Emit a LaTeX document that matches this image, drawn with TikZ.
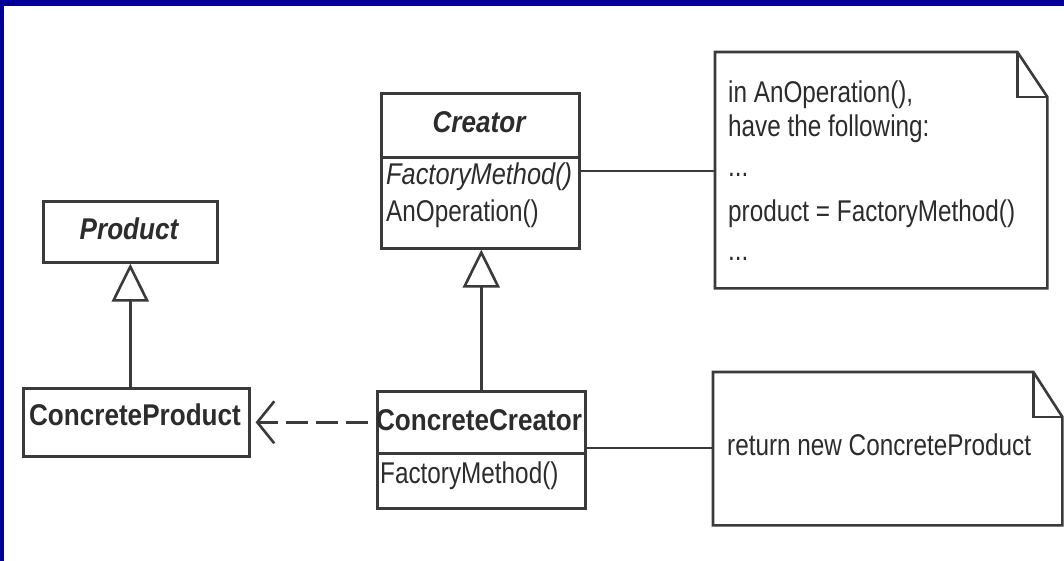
\documentclass[tikz,border=0pt]{standalone}
\usepackage{fontspec}
\setmainfont[FakeStretch=0.81]{Liberation Sans}
\newfontfamily\boldf[FakeStretch=0.87]{Liberation Sans}
\newfontfamily\italf[FakeStretch=0.845]{Liberation Sans}
\usetikzlibrary{arrows.meta,calc}
\definecolor{ink}{HTML}{3A3A3A}
\definecolor{txt}{HTML}{2C2C2C}
\definecolor{frame}{HTML}{000099}

\begin{document}
\begin{tikzpicture}[x=1pt,y=-1pt,
  box/.style={draw=ink, line width=2.6pt, fill=white, inner sep=0pt, anchor=north west},
  notearea/.style={draw=none, inner sep=0pt, anchor=north west},
  noteline/.style={draw=ink, line width=2.6pt, line join=miter, fill=white},
  lbl/.style={text=txt, inner sep=0pt, font=\fontsize{30}{36}\selectfont},
  cname/.style={lbl, anchor=base, font=\fontsize{30}{36}\selectfont\boldf\bfseries},
  aname/.style={lbl, anchor=base, font=\fontsize{30}{36}\selectfont\boldf\bfseries\itshape},
  member/.style={lbl, anchor=base west},
  link/.style={draw=ink, line width=2.6pt},
  inherit/.style={link, -{Triangle[open, length=38pt, width=37pt, fill=white]}},
  depend/.style={link, dash pattern=on 22pt off 8pt, dash phase=22pt,
    -{Straight Barb[length=17pt, width=42pt]}, shorten >=5pt}
]
\useasboundingbox (0,0) rectangle (1064,561);
\fill[white] (0,0) rectangle (1064,561);
\fill[frame] (0,0) rectangle (1064,6);
\fill[frame] (0,0) rectangle (4,561);

% abstract creator
\node[box, minimum width=198pt, minimum height=64pt] (creator) at (380,92) {};
\node[box, minimum width=198pt, minimum height=91pt] (creatorOps) at (380,156) {};
\node[aname] (creatorName) at (479,133) {Creator};
\node[member, font=\fontsize{30}{36}\selectfont\italf\itshape] (creatorFM) at (386,185) {FactoryMethod()};
\node[member] (creatorAO) at (386,222) {AnOperation()};

% abstract product
\node[box, minimum width=174pt, minimum height=61pt] (prod) at (42,200) {};
\node[aname] (prodName) at (129,240) {Product};

% concrete product
\node[box, minimum width=226pt, minimum height=68pt] (cp) at (22,387) {};
\node[cname] (cpName) at (135,425) {ConcreteProduct};

% concrete creator
\node[box, minimum width=208pt, minimum height=62pt] (cc) at (376,390) {};
\node[box, minimum width=208pt, minimum height=55pt] (ccOps) at (376,452) {};
\node[cname] (ccName) at (479,430) {ConcreteCreator};
\node[member] (ccFM) at (380,483) {FactoryMethod()};

% note on AnOperation
\node[notearea, minimum width=332pt, minimum height=236pt] (note1) at (715,52) {};
\draw[noteline] (note1.north west) -- ($(note1.north east)+(-30,0)$)
  -- ($(note1.north east)+(0,45)$) -- (note1.south east) -- (note1.south west) -- cycle;
\draw[noteline, fill=none] ($(note1.north east)+(-30,0)$) -- ++(0,45) -- ++(30,0);
\node[member] (n1a) at (728,103) {in AnOperation(),};
\node[member] (n1b) at (728,137) {have the following:};
\node[member] (n1c) at (728,177) {...};
\node[member] (n1d) at (728,222) {product = FactoryMethod()};
\node[member] (n1e) at (728,260) {...};

% note on FactoryMethod
\node[notearea, minimum width=349pt, minimum height=153pt] (note2) at (713,372) {};
\draw[noteline] (note2.north west) -- ($(note2.north east)+(-29,0)$)
  -- ($(note2.north east)+(0,45)$) -- (note2.south east) -- (note2.south west) -- cycle;
\draw[noteline, fill=none] ($(note2.north east)+(-29,0)$) -- ++(0,45) -- ++(29,0);
\node[member] (n2a) at (727,455) {return new ConcreteProduct};

% note attachments
\coordinate (a1) at (578,171);
\coordinate (a2) at (584,448);
\draw[link] (a1) -- (a1 -| note1.west);
\draw[link] (a2) -- (a2 -| note2.west);

% generalisations
\draw[inherit] (cc.north) -- (cc.north |- creatorOps.south);
\draw[inherit] (cp.north -| prod.south) -- (prod.south);

% dependency
\draw[depend] (cc.west) -- (cc.west -| cp.east);
\end{tikzpicture}
\end{document}
